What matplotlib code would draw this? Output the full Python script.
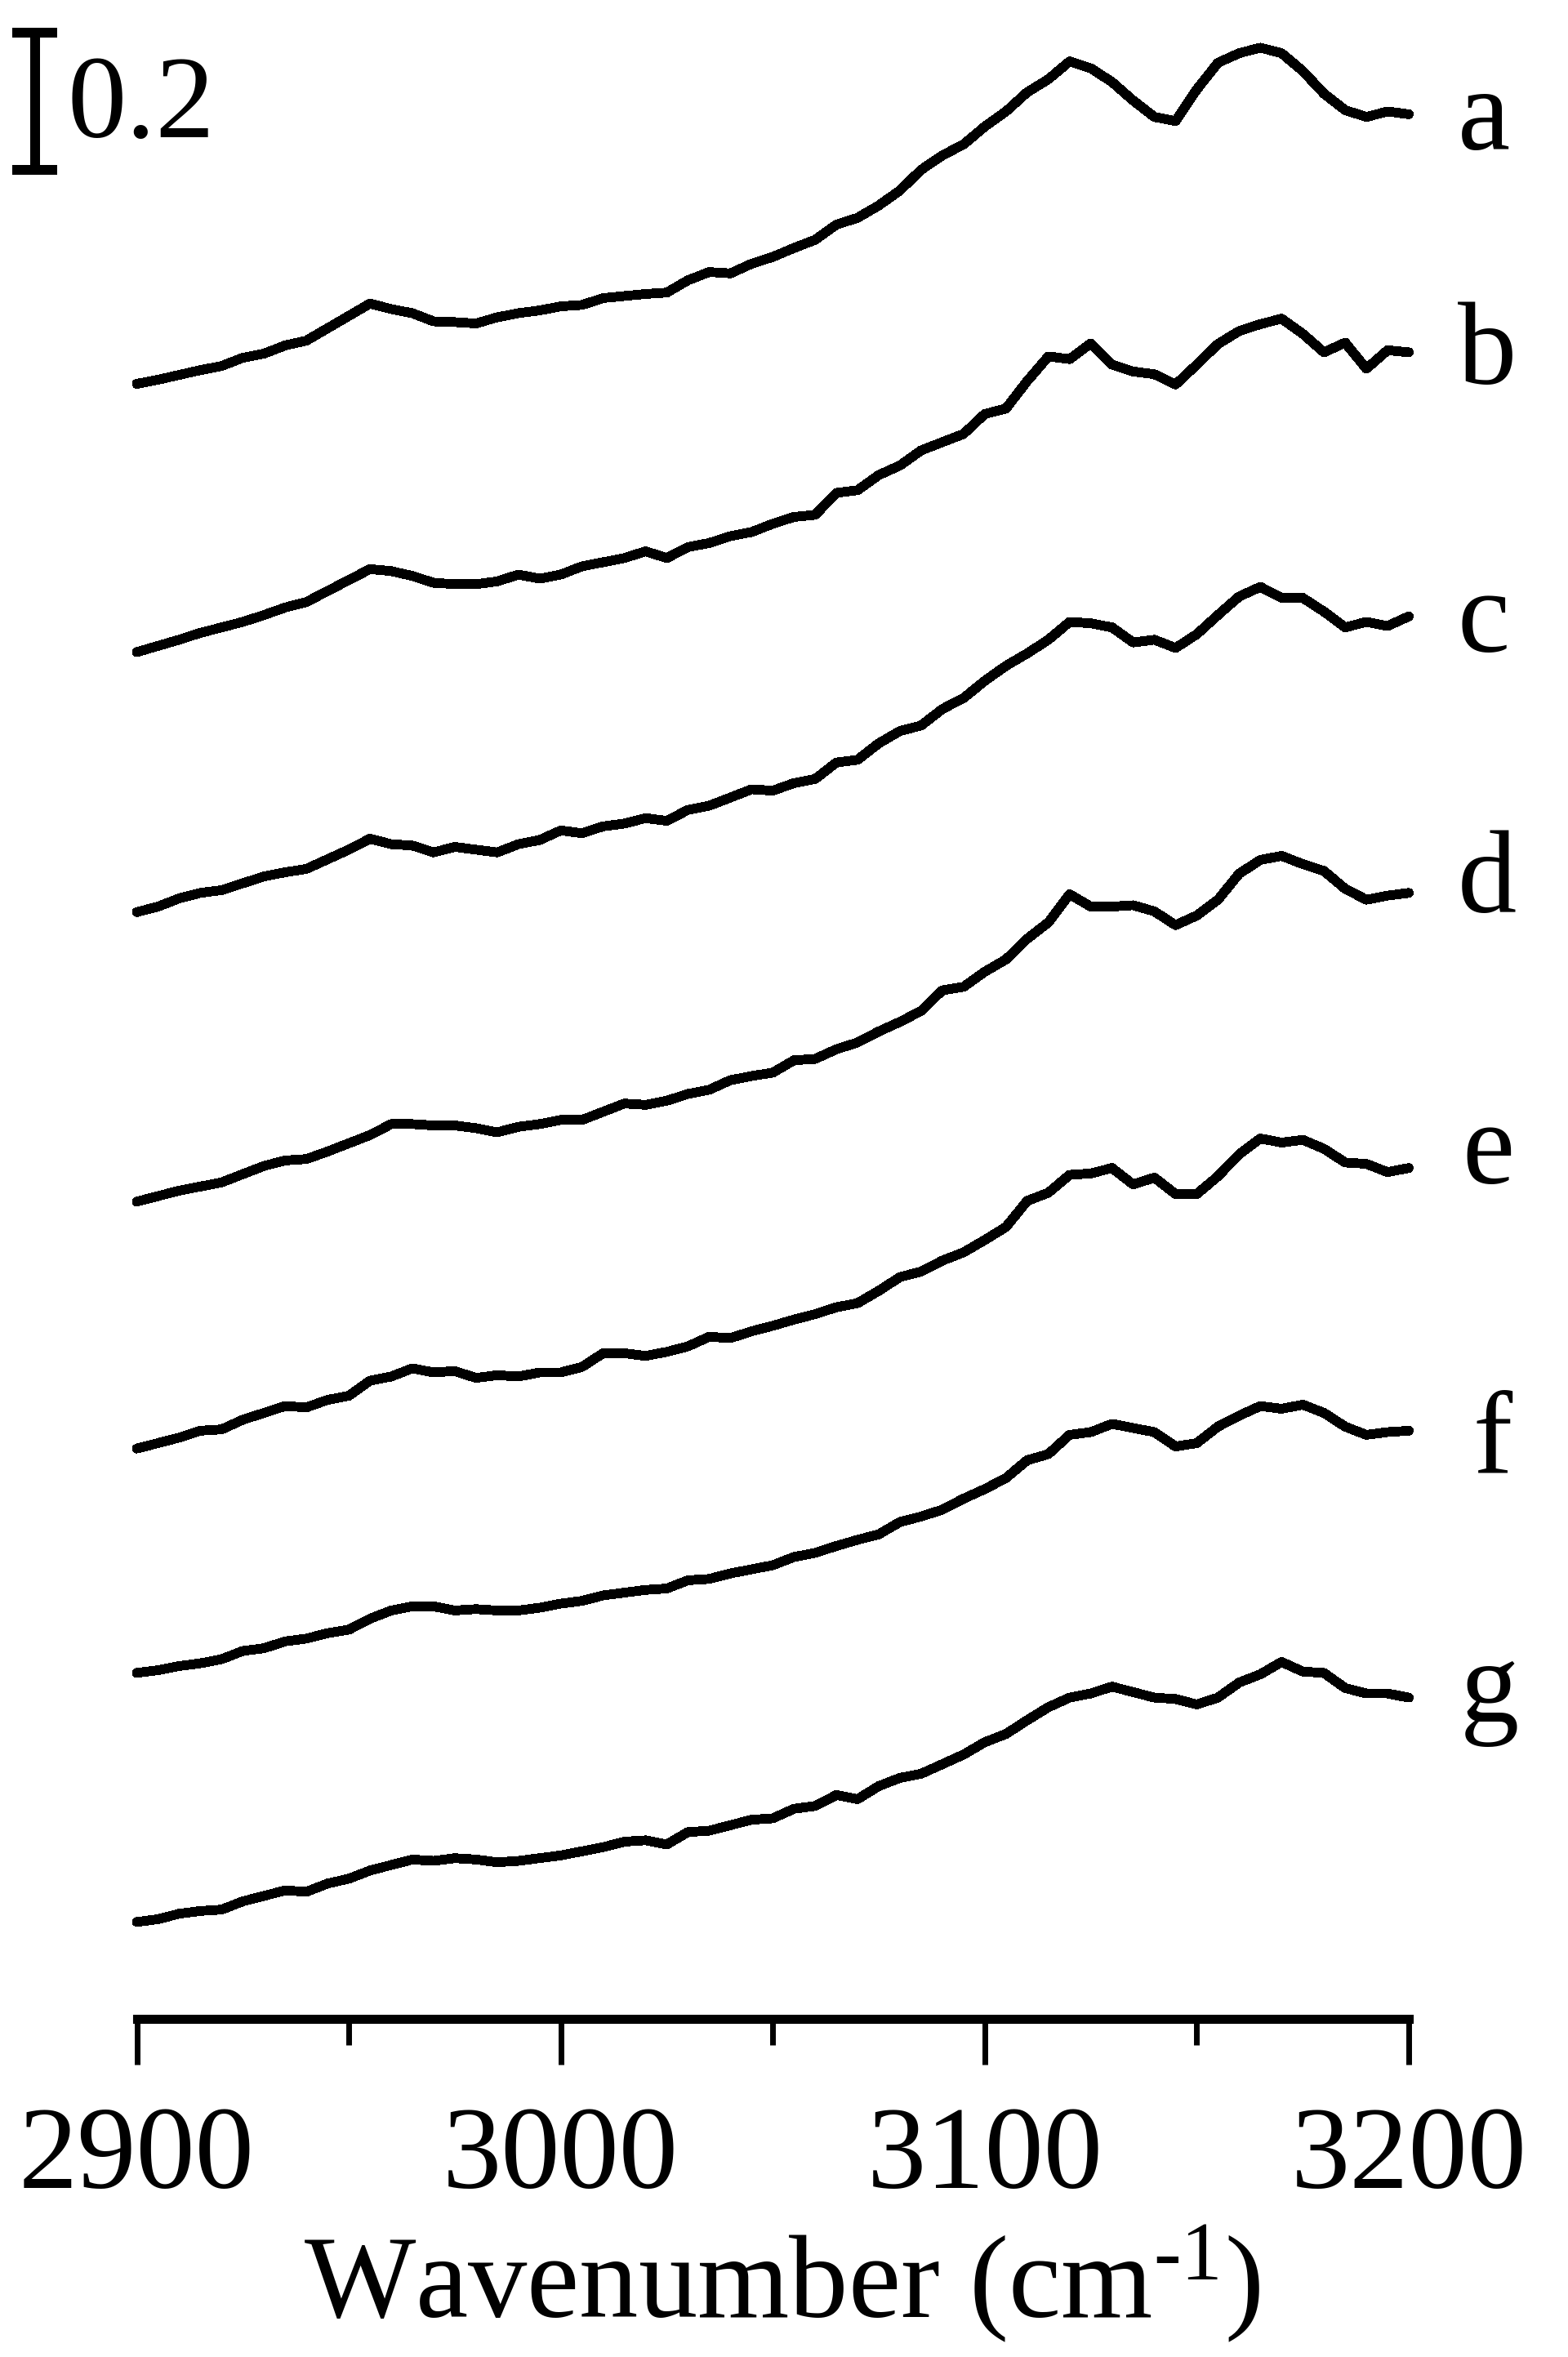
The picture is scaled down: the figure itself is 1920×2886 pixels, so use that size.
import numpy as np
import matplotlib
matplotlib.use("Agg")
import matplotlib.pyplot as plt

plt.rcParams['font.family'] = ['Liberation Serif', 'DejaVu Serif']
plt.rcParams['mathtext.fontset'] = 'custom'
plt.rcParams['mathtext.rm'] = 'Liberation Serif'
plt.rcParams['mathtext.it'] = 'Liberation Serif:italic'

# ---------------- data (absorbance) ----------------
wavenumber = np.arange(2900, 3201, 5)

spec_a = [0.000, 0.006, 0.013, 0.020, 0.026, 0.038, 0.044, 0.056, 0.063, 0.081,
          0.099, 0.117, 0.109, 0.103, 0.091, 0.090, 0.088, 0.097, 0.103, 0.107,
          0.113, 0.115, 0.125, 0.128, 0.131, 0.133, 0.151, 0.163, 0.161, 0.175,
          0.185, 0.198, 0.210, 0.232, 0.242, 0.260, 0.282, 0.312, 0.333, 0.349,
          0.375, 0.397, 0.425, 0.444, 0.470, 0.460, 0.440, 0.413, 0.389, 0.383,
          0.429, 0.468, 0.482, 0.490, 0.482, 0.456, 0.423, 0.399, 0.389, 0.397, 0.393]
spec_b = [0.000, 0.009, 0.018, 0.028, 0.036, 0.044, 0.054, 0.065, 0.073, 0.089,
          0.105, 0.121, 0.118, 0.111, 0.101, 0.099, 0.099, 0.103, 0.113, 0.107,
          0.113, 0.125, 0.131, 0.137, 0.147, 0.137, 0.153, 0.159, 0.169, 0.175,
          0.187, 0.197, 0.200, 0.232, 0.236, 0.258, 0.272, 0.294, 0.306, 0.318,
          0.347, 0.355, 0.395, 0.431, 0.427, 0.450, 0.419, 0.409, 0.405, 0.390,
          0.419, 0.449, 0.468, 0.478, 0.486, 0.464, 0.437, 0.451, 0.413, 0.440, 0.437]
spec_c = [0.000, 0.008, 0.020, 0.028, 0.032, 0.042, 0.052, 0.058, 0.063, 0.077,
          0.091, 0.107, 0.099, 0.097, 0.087, 0.095, 0.091, 0.087, 0.099, 0.105,
          0.119, 0.115, 0.125, 0.129, 0.137, 0.133, 0.149, 0.155, 0.167, 0.179,
          0.177, 0.188, 0.194, 0.218, 0.222, 0.246, 0.264, 0.272, 0.296, 0.312,
          0.337, 0.359, 0.377, 0.397, 0.423, 0.421, 0.415, 0.393, 0.397, 0.385,
          0.405, 0.433, 0.460, 0.474, 0.458, 0.458, 0.438, 0.415, 0.423, 0.417, 0.431]
spec_d = [0.000, 0.008, 0.016, 0.022, 0.028, 0.040, 0.052, 0.060, 0.062, 0.073,
          0.085, 0.097, 0.113, 0.113, 0.111, 0.111, 0.107, 0.101, 0.109, 0.113,
          0.119, 0.119, 0.131, 0.143, 0.141, 0.147, 0.157, 0.163, 0.177, 0.183,
          0.188, 0.206, 0.208, 0.222, 0.232, 0.248, 0.262, 0.278, 0.308, 0.313,
          0.335, 0.353, 0.383, 0.407, 0.448, 0.430, 0.430, 0.432, 0.423, 0.403,
          0.417, 0.440, 0.478, 0.498, 0.504, 0.492, 0.482, 0.456, 0.440, 0.446, 0.450]
spec_e = [0.000, 0.008, 0.016, 0.026, 0.028, 0.042, 0.052, 0.062, 0.060, 0.071,
          0.077, 0.099, 0.105, 0.117, 0.111, 0.113, 0.103, 0.107, 0.105, 0.111,
          0.111, 0.119, 0.139, 0.139, 0.135, 0.141, 0.149, 0.163, 0.161, 0.171,
          0.179, 0.188, 0.196, 0.206, 0.212, 0.230, 0.250, 0.258, 0.274, 0.286,
          0.304, 0.323, 0.361, 0.373, 0.399, 0.401, 0.409, 0.385, 0.395, 0.371,
          0.371, 0.397, 0.429, 0.452, 0.446, 0.450, 0.437, 0.417, 0.415, 0.403, 0.409]
spec_f = [0.000, 0.004, 0.010, 0.014, 0.020, 0.032, 0.036, 0.046, 0.050, 0.058,
          0.063, 0.079, 0.091, 0.097, 0.097, 0.091, 0.093, 0.091, 0.091, 0.095,
          0.101, 0.105, 0.113, 0.117, 0.121, 0.123, 0.135, 0.137, 0.145, 0.151,
          0.157, 0.169, 0.175, 0.185, 0.194, 0.202, 0.220, 0.228, 0.238, 0.254,
          0.268, 0.284, 0.310, 0.319, 0.347, 0.351, 0.363, 0.357, 0.351, 0.330,
          0.335, 0.359, 0.375, 0.389, 0.385, 0.391, 0.379, 0.359, 0.347, 0.351, 0.353]
spec_g = [0.000, 0.004, 0.012, 0.016, 0.018, 0.030, 0.038, 0.046, 0.044, 0.056,
          0.063, 0.075, 0.083, 0.091, 0.089, 0.093, 0.091, 0.087, 0.089, 0.093,
          0.097, 0.103, 0.109, 0.117, 0.119, 0.113, 0.131, 0.133, 0.141, 0.149,
          0.151, 0.165, 0.169, 0.185, 0.179, 0.198, 0.210, 0.216, 0.230, 0.244,
          0.262, 0.274, 0.294, 0.313, 0.327, 0.333, 0.343, 0.335, 0.327, 0.325,
          0.317, 0.327, 0.349, 0.361, 0.379, 0.365, 0.363, 0.341, 0.333, 0.333, 0.327]

sample_labels = ['a', 'b', 'c', 'd', 'e', 'f', 'g']
vertical_offsets = [2.242, 1.851, 1.472, 1.050, 0.690, 0.363, 0.0]
scale_bar_value = 0.2
x_major_ticks = [2900, 3000, 3100, 3200]
x_minor_ticks = [2950, 3050, 3150]

spectra = [spec_a, spec_b, spec_c, spec_d, spec_e, spec_f, spec_g]

# ---------------- layout / style ----------------
label_font = 104
line_w = 7.8
label_pos = {'a': (3211.5, 2.584), 'b': (3211.5, 2.242), 'c': (3211.5, 1.851),
             'd': (3211.5, 1.472), 'e': (3212.5, 1.077), 'f': (3215.2, 0.656),
             'g': (3212.0, 0.292)}

fig = plt.figure(figsize=(19.2, 28.86), dpi=100)
ax = fig.add_axes([0.08724, 0.14345, 0.81120, 0.85655])
ax.set_xlim(2900, 3200)
ax.set_ylim(-0.1413, 2.8015)

for lab, spec, off in zip(sample_labels, spectra, vertical_offsets):
    ax.plot(wavenumber, np.asarray(spec) + off, color='black', lw=line_w,
            solid_joinstyle='round', solid_capstyle='round', clip_on=False,
            antialiased=False)
    lx, ly = label_pos[lab]
    ax.text(lx, ly, lab, fontsize=label_font, ha='left', va='baseline',
            clip_on=False)

# scale bar
sb_x = 2876.0
sb_top = 2.754
sb_bot = sb_top - scale_bar_value
cap = 5.3
bar_kw = dict(color='black', lw=7.5, solid_capstyle='butt', clip_on=False,
              antialiased=False)
ax.plot([sb_x, sb_x], [sb_bot, sb_top], **bar_kw)
ax.plot([sb_x - cap, sb_x + cap], [sb_top, sb_top], **bar_kw)
ax.plot([sb_x - cap, sb_x + cap], [sb_bot, sb_bot], **bar_kw)
ax.text(2883.7, 2.6015, f'{scale_bar_value:.1f}', fontsize=label_font,
        ha='left', va='baseline', clip_on=False)

# axes styling
for s in ['top', 'left', 'right']:
    ax.spines[s].set_visible(False)
ax.spines['bottom'].set_linewidth(8)
ax.spines['bottom'].set_capstyle('projecting')
ax.set_yticks([])
ax.set_xticks(x_major_ticks)
ax.set_xticks(x_minor_ticks, minor=True)
ax.tick_params(axis='x', which='major', direction='out', length=40, width=5,
               pad=37, labelsize=label_font)
ax.tick_params(axis='x', which='minor', direction='out', length=23, width=5)
ax.patch.set_visible(False)

xlab_y = (2886 - 2838) / 2886
xl = fig.text(0.499, xlab_y, r'Wavenumber (cm$^{\text{-1}}$)',
              fontsize=label_font, ha='center', va='baseline')
try:
    fig.canvas.draw()
except Exception:
    xl.set_text(r'Wavenumber (cm$^{-1}$)')

fig.savefig('out.png', dpi=100)
